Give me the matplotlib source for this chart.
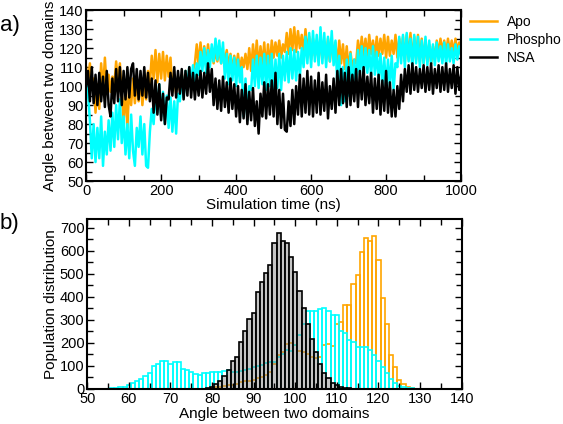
import numpy as np
import matplotlib.pyplot as plt

plt.rcParams['font.family'] = ['Liberation Sans', 'DejaVu Sans']

# ---- time series (every 5 ns, 0..1000) ----
time_ns = np.arange(0, 1001, 5)

apo = [110, 102, 112, 100, 104, 86, 101, 88, 112, 97, 115, 98, 106, 97, 105, 100, 113, 101, 112, 96,
       82, 98, 78, 100, 90, 104, 91, 103, 92, 105, 90, 102, 93, 108, 101, 116, 104, 119, 102, 117,
       104, 118, 103, 116, 105, 115, 97, 106, 96, 105, 98, 104, 99, 108, 98, 107, 100, 108, 112, 122,
       111, 123, 112, 121, 110, 122, 113, 120, 112, 119, 113, 120, 112, 118, 113, 119, 110, 117, 108, 116,
       109, 117, 108, 115, 110, 117, 109, 120, 108, 122, 110, 124, 109, 121, 111, 123, 108, 122, 110, 124,
       115, 123, 116, 124, 115, 122, 118, 128, 117, 130, 119, 131, 118, 129, 120, 127, 117, 130, 118, 126,
       114, 125, 116, 124, 113, 126, 115, 123, 114, 125, 113, 124, 115, 123, 110, 124, 112, 122, 109, 121,
       108, 118, 110, 114, 112, 124, 115, 126, 116, 125, 115, 127, 117, 124, 115, 126, 116, 125, 117, 127,
       115, 126, 116, 124, 117, 127, 115, 125, 116, 126, 113, 127, 114, 128, 112, 126, 114, 127, 113, 125,
       112, 124, 113, 122, 112, 121, 114, 124, 117, 125, 118, 124, 117, 125, 118, 124, 117, 125, 118, 123, 120]

phospho = [104, 96, 82, 62, 80, 60, 78, 62, 84, 58, 76, 64, 82, 66, 86, 68, 90, 72, 93, 70,
           84, 64, 80, 62, 85, 66, 58, 78, 68, 84, 64, 80, 58, 57, 76, 88, 80, 96, 86, 101,
           84, 97, 80, 95, 78, 94, 76, 92, 75, 96, 92, 106, 94, 108, 100, 110, 101, 111, 102, 112,
           106, 118, 108, 120, 107, 119, 110, 122, 113, 125, 114, 124, 112, 123, 104, 117, 101, 116, 103, 115,
           100, 114, 102, 110, 84, 104, 82, 100, 98, 114, 100, 116, 99, 115, 101, 117, 98, 116, 100, 117,
           97, 114, 99, 117, 98, 116, 103, 118, 102, 120, 104, 119, 103, 118, 105, 120, 110, 126, 112, 128,
           110, 129, 113, 127, 111, 131, 112, 128, 110, 126, 113, 129, 111, 124, 100, 116, 90, 110, 92, 114,
           95, 117, 98, 114, 100, 119, 106, 121, 105, 120, 107, 119, 105, 121, 106, 118, 104, 117, 100, 115,
           99, 114, 100, 116, 98, 112, 110, 126, 112, 127, 110, 128, 113, 125, 109, 127, 112, 126, 110, 124,
           112, 126, 111, 124, 112, 122, 111, 123, 113, 121, 112, 123, 111, 122, 113, 120, 112, 122, 114, 121, 116]

nsa = [100, 108, 92, 110, 91, 106, 90, 107, 92, 105, 89, 108, 90, 84, 104, 91, 109, 92, 110, 90,
       108, 93, 110, 94, 109, 112, 95, 109, 93, 108, 95, 110, 94, 107, 92, 104, 86, 103, 85, 101,
       82, 96, 80, 94, 93, 107, 95, 110, 94, 108, 96, 109, 93, 108, 95, 110, 94, 107, 93, 106,
       95, 108, 94, 107, 96, 112, 97, 109, 90, 104, 88, 103, 87, 105, 89, 102, 86, 104, 88, 101,
       84, 100, 81, 98, 83, 101, 80, 97, 82, 99, 79, 92, 75, 96, 84, 102, 83, 101, 85, 103,
       84, 107, 80, 98, 78, 96, 77, 76, 92, 79, 98, 80, 100, 85, 106, 84, 104, 86, 108, 85,
       105, 84, 103, 86, 107, 85, 102, 87, 106, 83, 100, 88, 104, 86, 108, 90, 109, 91, 107, 89,
       110, 90, 106, 92, 109, 89, 108, 93, 110, 90, 105, 91, 107, 86, 104, 88, 106, 85, 103, 87,
       108, 86, 102, 84, 98, 84, 100, 88, 106, 92, 109, 97, 111, 96, 112, 98, 110, 97, 109, 99,
       111, 97, 110, 98, 112, 96, 109, 99, 111, 97, 110, 98, 112, 97, 109, 99, 111, 96, 110, 98, 106]

# ---- histograms (1 degree bins) ----
apo_bins = np.arange(80, 129)
apo_counts = [5, 8, 10, 12, 15, 18, 22, 28, 32, 35,
              40, 45, 50, 60, 75, 110, 145, 160, 195, 200,
              190, 165, 160, 150, 140, 135, 140, 190, 195, 185,
              280, 290, 365, 365, 456, 496, 597, 656, 643, 667,
              561, 396, 282, 148, 97, 39, 22, 8, 3]

phospho_bins = np.arange(55, 131)
phospho_counts = [1, 2, 4, 6, 10, 17, 25, 32, 42, 55,
                  70, 100, 110, 120, 122, 110, 118, 115, 88, 80,
                  72, 66, 62, 68, 70, 72, 75, 72, 78, 80,
                  75, 74, 78, 80, 85, 95, 100, 105, 112, 115,
                  118, 140, 150, 170, 165, 190, 235, 280, 340, 339,
                  340, 348, 350, 339, 322, 320, 252, 243, 213, 203,
                  184, 180, 181, 170, 148, 119, 97, 68, 43, 26,
                  14, 8, 4, 2, 1, 1]

nsa_bins = np.arange(79, 114)
nsa_counts = [3, 8, 20, 35, 55, 80, 120, 140, 205, 250,
              305, 330, 420, 465, 505, 540, 635, 678, 645, 635,
              575, 510, 425, 350, 280, 215, 160, 110, 70, 45,
              25, 15, 8, 4, 2]

orange = '#ffa500'
cyan = '#00ffff'

fig = plt.figure(figsize=(5.63, 4.24), dpi=100)
ax1 = fig.add_axes([0.153, 0.573, 0.666, 0.403])
ax2 = fig.add_axes([0.155, 0.083, 0.665, 0.401])

# top panel
l1, = ax1.plot(time_ns, apo, color=orange, lw=1.8, label='Apo')
l2, = ax1.plot(time_ns, phospho, color=cyan, lw=1.8, label='Phospho')
l3, = ax1.plot(time_ns, nsa, color='black', lw=1.8, label='NSA')
ax1.set_xlim(0, 1000)
ax1.set_ylim(50, 140)
ax1.set_xticks(np.arange(0, 1001, 200))
ax1.set_xticks(np.arange(0, 1001, 100), minor=True)
ax1.set_yticks(np.arange(50, 141, 10))
ax1.set_yticks(np.arange(50, 141, 5), minor=True)
ax1.set_xlabel('Simulation time (ns)', fontsize=11, labelpad=0)
ax1.set_ylabel('Angle between two domains', fontsize=11, labelpad=1)

# bottom panel
ax2.bar(apo_bins, apo_counts, width=1, facecolor='none', edgecolor=orange, lw=1.2)
ax2.bar(phospho_bins, phospho_counts, width=1, facecolor='none', edgecolor=cyan, lw=1.2)
ax2.bar(nsa_bins, nsa_counts, width=1, facecolor=(0.5, 0.5, 0.5, 0.45),
        edgecolor='black', lw=1.2)
ax2.set_xlim(50, 140)
ax2.set_ylim(0, 740)
ax2.set_xticks(np.arange(50, 141, 10))
ax2.set_xticks(np.arange(50, 141, 5), minor=True)
ax2.set_yticks(np.arange(0, 701, 100))
ax2.set_yticks(np.arange(0, 701, 50), minor=True)
ax2.set_xlabel('Angle between two domains', fontsize=11, labelpad=1)
ax2.set_ylabel('Population distribution', fontsize=11, labelpad=1)

for ax in (ax1, ax2):
    ax.tick_params(which='both', direction='in', top=True, right=True,
                   labelsize=10.5, pad=2, width=1.0)
    ax.tick_params(which='major', length=5)
    ax.tick_params(which='minor', length=4)
    for s in ax.spines.values():
        s.set_linewidth(1.5)

fig.legend(handles=[l1, l2, l3], loc='upper left', bbox_to_anchor=(0.812, 0.995),
           frameon=False, fontsize=10, handlelength=2.0, handletextpad=0.7,
           labelspacing=0.3)

fig.text(0.0, 1 - 26 / 424, 'a)', fontsize=16, va='center')
fig.text(0.0, 1 - 224 / 424, 'b)', fontsize=16, va='center')

fig.savefig('out.png', dpi=100)
